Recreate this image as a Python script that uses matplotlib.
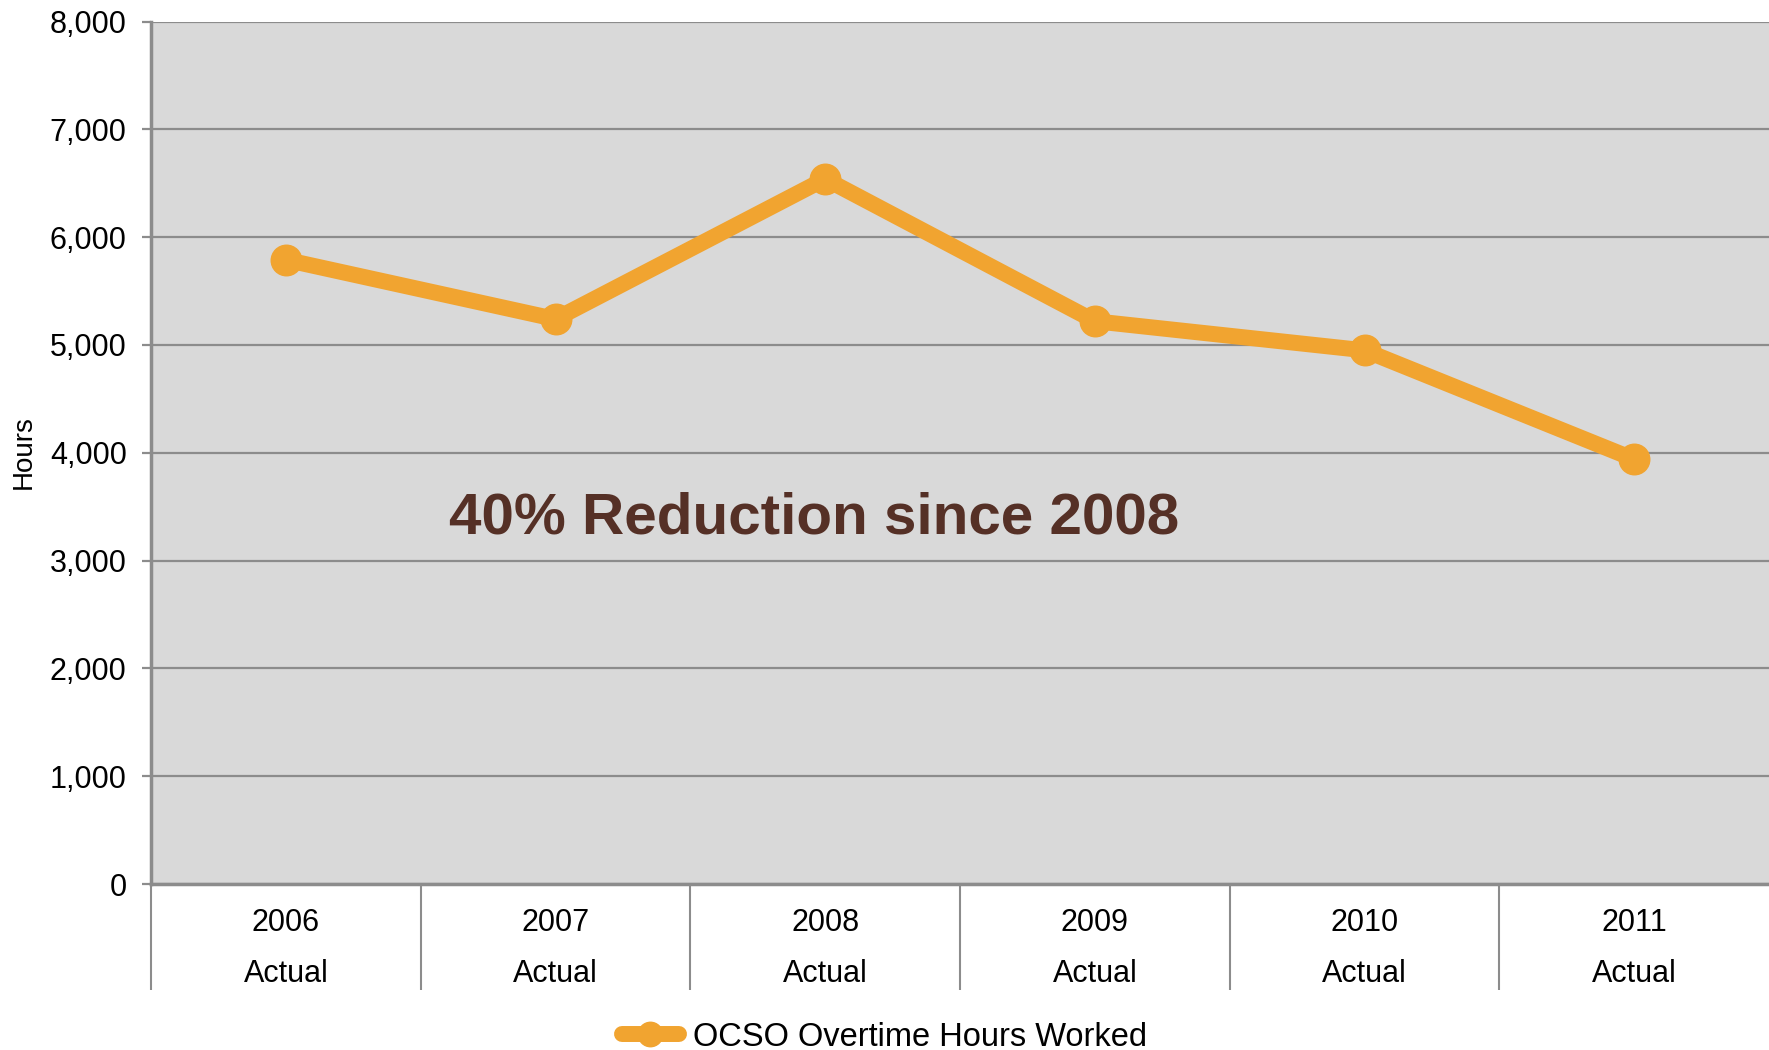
import matplotlib
matplotlib.use("Agg")
import matplotlib.pyplot as plt
from matplotlib.ticker import FuncFormatter, FixedLocator

years = ["2006", "2007", "2008", "2009", "2010", "2011"]
sublabel = "Actual"
hours = [5790, 5240, 6540, 5220, 4950, 3940]
series_name = "OCSO Overtime Hours Worked"
annotation = "40% Reduction since 2008"
yticks = [0, 1000, 2000, 3000, 4000, 5000, 6000, 7000, 8000]

plt.rcParams['font.family'] = ['Liberation Sans', 'DejaVu Sans']

W, H = 1769, 1050
fig = plt.figure(figsize=(W / 100, H / 100), dpi=100)
ax = fig.add_axes([151 / W, 1 - 884 / H, 1 - 151 / W, (884 - 21.5) / H])

grey = '#8c8c8c'
orange = '#F1A430'
ax.set_facecolor('#d9d9d9')

x = list(range(len(years)))
ax.plot(x, hours, color=orange, lw=11.5, marker='o', markersize=22,
        solid_capstyle='round', label=series_name, zorder=3)

ax.set_xlim(-0.5, len(years) - 0.5)
ax.set_ylim(0, 8000)
ax.set_yticks(yticks)
ax.yaxis.set_major_formatter(FuncFormatter(lambda v, p: f"{int(v):,}"))
ax.grid(axis='y', color=grey, lw=1.6, zorder=1)
ax.set_axisbelow(True)

ax.set_xticks(x)
ax.set_xticklabels([f"{y}\n{sublabel}" for y in years], linespacing=1.95)
ax.xaxis.set_minor_locator(FixedLocator([i - 0.5 for i in range(len(years))]))
ax.tick_params(axis='x', which='major', length=0, pad=17, labelsize=22)
ax.tick_params(axis='x', which='minor', length=76, width=1.5, color=grey, direction='out')
ax.tick_params(axis='y', which='major', length=6.5, width=1.6, color=grey, pad=11, labelsize=22)

for s in ['top', 'right']:
    ax.spines[s].set_visible(False)
for s in ['left', 'bottom']:
    ax.spines[s].set_color(grey)
    ax.spines[s].set_linewidth(2.5)

ax.set_ylabel("Hours", fontsize=20)
ax.yaxis.set_label_coords((37 - 151) / (W - 151), 0.501)

ax.text((449 - 151) / (W - 151), (884 - 533) / (884 - 21.5), annotation,
        transform=ax.transAxes, fontsize=42, fontweight='bold', color='#553026',
        ha='left', va='baseline')

leg = fig.legend(loc='center', bbox_to_anchor=(0.5, 1 - 1037 / H), frameon=False,
                 fontsize=23.5, handlelength=1.75, handletextpad=0.45, markerscale=0.8)

fig.savefig("out.png", dpi=100)
